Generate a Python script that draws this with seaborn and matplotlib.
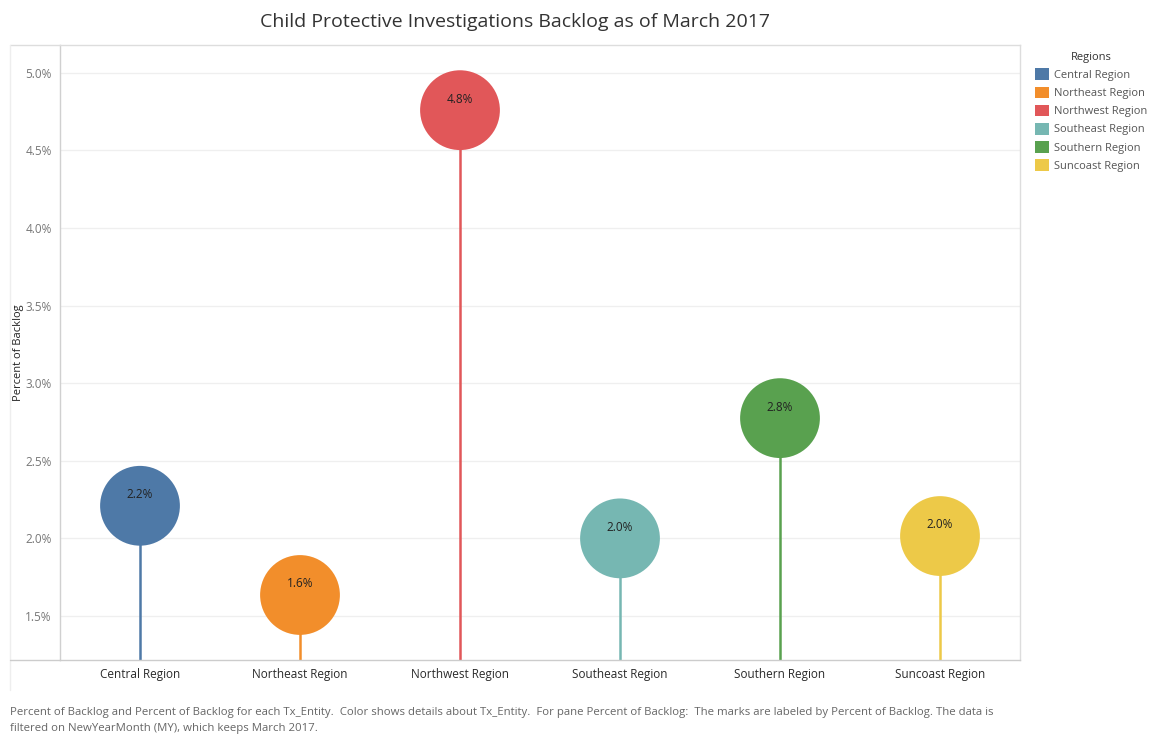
import numpy as np
import pandas as pd
import seaborn as sns
import matplotlib.pyplot as plt
from matplotlib.patches import Patch
from matplotlib.lines import Line2D
from matplotlib.ticker import FuncFormatter, MultipleLocator

# dados
regioes = ['Central Region', 'Northeast Region', 'Northwest Region',
           'Southeast Region', 'Southern Region', 'Suncoast Region']
backlog = [2.21, 1.635, 4.76, 2.0, 2.775, 2.015]
rotulos = ['2.2%', '1.6%', '4.8%', '2.0%', '2.8%', '2.0%']
cores = ['#4e79a7', '#f28e2b', '#e15759', '#76b7b2', '#59a14f', '#edc948']

df = pd.DataFrame({'regiao': regioes, 'backlog': backlog, 'rotulo': rotulos})
df['x'] = np.arange(len(df))

sns.set_style('white')
plt.rcParams['font.family'] = ['Open Sans', 'DejaVu Sans']

fig = plt.figure(figsize=(11.51, 7.34), dpi=100)
ax = fig.add_axes([60 / 1151, 74 / 734, 960 / 1151, 615 / 734])

y_min, y_max = 1.216, 5.18

# hastes
ax.vlines(df['x'], y_min, df['backlog'], colors=cores, linewidth=1.8, zorder=2)

# círculos
sns.scatterplot(data=df, x='x', y='backlog', hue='regiao', palette=cores,
                s=3300, edgecolor='none', alpha=1, legend=False, ax=ax, zorder=3)

for _, r in df.iterrows():
    ax.annotate(r['rotulo'], (r['x'], r['backlog']), xytext=(0, 8),
                textcoords='offset points', ha='center', va='center',
                fontsize=8.5, color='#222222', zorder=4)

ax.set_xlim(-0.5, len(df) - 0.5)
ax.set_ylim(y_min, y_max)
ax.yaxis.set_major_locator(MultipleLocator(0.5))
ax.yaxis.set_major_formatter(FuncFormatter(lambda v, p: f'{v:.1f}%'))
ax.grid(axis='y', color='#efefef', linewidth=0.9)
ax.set_axisbelow(True)

ax.set_xticks(df['x'])
ax.set_xticklabels(df['regiao'], fontsize=8.5, color='#2a2a2a')
ax.tick_params(axis='x', length=0, pad=6)
ax.tick_params(axis='y', length=0, labelsize=8.5, labelcolor='#777777', pad=6)
ax.set_xticks(np.arange(0.5, len(df) - 1, 1), minor=True)
ax.tick_params(axis='x', which='minor', length=3, color='#dddddd')

ax.set_xlabel('')
ax.set_ylabel('Percent of Backlog', fontsize=8, color='#222222')
ax.yaxis.set_label_coords(-0.037, 0.5)

for lado in ['top', 'right']:
    ax.spines[lado].set_color('#dddddd')
ax.spines['left'].set_color('#d0d0d0')
ax.spines['bottom'].set_color('#cccccc')
for sp in ax.spines.values():
    sp.set_linewidth(1.0)

# moldura externa
fig.add_artist(Line2D([10 / 1151, 60 / 1151], [1 - 45 / 734, 1 - 45 / 734],
                      color='#dddddd', linewidth=1.0))
fig.add_artist(Line2D([10 / 1151, 10 / 1151], [1 - 45 / 734, 1 - 690 / 734],
                      color='#eeeeee', linewidth=1.0))
fig.add_artist(Line2D([10 / 1151, 60 / 1151], [74 / 734, 74 / 734],
                      color='#cccccc', linewidth=1.0))

fig.text(515 / 1151, 1 - 22 / 734, 'Child Protective Investigations Backlog as of March 2017',
         ha='center', va='center', fontsize=14, color='#333333')

handles = [Patch(facecolor=c, edgecolor='none', label=r) for r, c in zip(regioes, cores)]
leg = fig.legend(handles=handles, title='Regions', loc='upper left',
                 bbox_to_anchor=(1027 / 1151, 1 - 44 / 734), frameon=False,
                 fontsize=8, title_fontsize=8, handlelength=1.25, handleheight=1.25,
                 handletextpad=0.45, labelspacing=0.5, borderpad=0.2)
for t in leg.get_texts():
    t.set_color('#555555')
leg.get_title().set_color('#333333')

fig.text(10 / 1151, 1 - 713 / 734,
         'Percent of Backlog and Percent of Backlog for each Tx_Entity.  Color shows details about Tx_Entity.  '
         'For pane Percent of Backlog:  The marks are labeled by Percent of Backlog. The data is',
         ha='left', va='center', fontsize=8.2, color='#666666')
fig.text(10 / 1151, 1 - 729 / 734,
         'filtered on NewYearMonth (MY), which keeps March 2017.',
         ha='left', va='center', fontsize=8.2, color='#666666')

plt.savefig('out.png', dpi=100)
